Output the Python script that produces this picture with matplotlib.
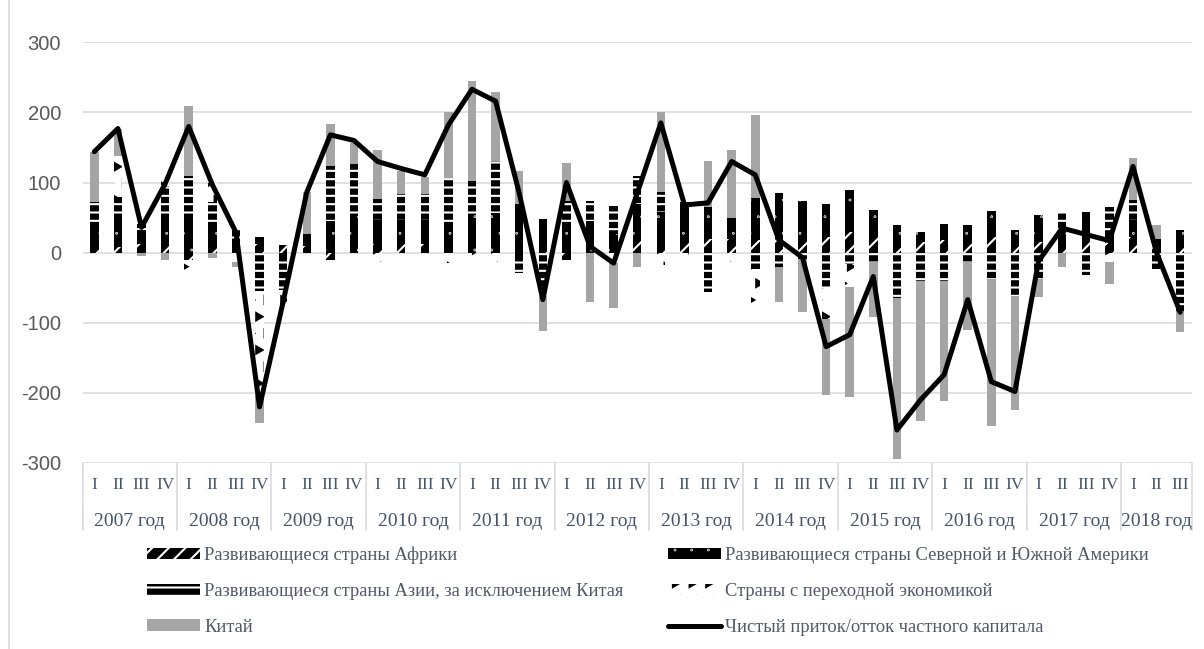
import matplotlib
matplotlib.use('Agg')
import matplotlib.pyplot as plt
import numpy as np
from matplotlib import hatch as mhatch
from matplotlib.path import Path
from matplotlib.lines import Line2D
import matplotlib.transforms as mtrans

plt.rcParams['hatch.linewidth'] = 1.5

# ---------------- data ----------------
years = ['2007 год', '2008 год', '2009 год', '2010 год', '2011 год', '2012 год',
         '2013 год', '2014 год', '2015 год', '2016 год', '2017 год', '2018 год']
quarters = ['I', 'II', 'III', 'IV'] * 11 + ['I', 'II', 'III']

africa = [8, 8, 12, 10, -10, 10, 0, 12, 11, 10, -10, 0,
          12, 12, 12, 0, 0, 0, -8, 8, -10, 0, 0, 20,
          8, 15, 20, 20, 18, 20, 22, 22, 30, 28, 15, 15,
          18, 17, 22, 13, 15, 10, 15, 18, 22, 12, 15]
americas = [35, 40, 20, 45, 50, 32, 12, 11, -5, 16, 45, 52,
            35, 35, 35, 40, 55, 57, 69, 40, 40, 45, 26, 50,
            50, 57, 45, 29, 60, 65, 51, 48, 60, 33, 24, 15,
            23, 22, 38, 20, 38, 18, 43, 10, 25, 8, 18]
asia = [29, 32, 9, 40, 59, 30, 22, -55, -48, 0, 78, 74,
        29, 36, 36, 67, 47, 73, -21, -45, 33, 28, 40, 39,
        28, 0, -56, 0, -23, -20, -9, -51, -16, -13, -64, -40,
        -40, -13, -37, -62, -37, 28, -32, 37, 28, -24, -85]
transition = [0, 58, 0, 13, -19, 28, -13, -148, -28, 0, 0, 0,
              -14, 0, 0, -15, -16, -13, 0, -17, 0, 0, -15, 0,
              -17, -4, 0, -13, -52, 0, 0, -43, -33, 0, 0, 0,
              0, 0, 0, 0, 0, 0, 0, -13, -9, -11, 0]
china = [72, 39, -5, -10, 100, -7, -8, -40, 0, 60, 60, 31,
         70, 33, 25, 93, 143, 99, 48, -50, 55, -70, -64, -20,
         114, 0, 65, 97, 119, -51, -75, -109, -157, -79, -230, -200,
         -171, -98, -210, -163, -26, -20, 0, -31, 60, 19, -28]
net_flow = [144, 177, 36, 98, 180, 97, 29, -220, -70, 86, 168, 160,
            130, 120, 111, 182, 233, 216, 85, -67, 100, 9, -15, 85,
            185, 68, 71, 130, 111, 18, -7, -134, -117, -34, -253, -210,
            -174, -67, -184, -198, -12, 35, 26, 17, 123, 0, -85]

series_names = ['Развивающиеся страны Африки',
                'Развивающиеся страны Северной и Южной Америки',
                'Развивающиеся страны Азии, за исключением Китая',
                'Страны с переходной экономикой',
                'Китай']
line_name = 'Чистый приток/отток частного капитала'
yticks = [-300, -200, -100, 0, 100, 200, 300]


# ---------------- custom hatches ----------------
class Triangles(mhatch.Shapes):
    """Filled right-pointing triangles, selected with '*'."""
    size = 0.25
    filled = True

    def __init__(self, hatch, density):
        self.num_rows = hatch.count('*') * density
        p = Path.unit_regular_polygon(3)
        v = p.vertices.copy()
        self.shape_vertices = np.column_stack([v[:, 1], -v[:, 0]])
        self.shape_codes = p.codes
        super().__init__(hatch, density)


class TinyDots(mhatch.Circles):
    """Very small filled dots, selected with '.'."""
    size = 0.02
    filled = True

    def __init__(self, hatch, density):
        self.num_rows = hatch.count('.') * density
        super().__init__(hatch, density)


_repl = {mhatch.Stars: Triangles, mhatch.SmallFilledCircles: TinyDots}
mhatch._hatch_types = [_repl.get(c, c) for c in mhatch._hatch_types]

TEXT = '#595959'
CAT = '#44546A'
GRID = '#D9DCE1'
SERIF = 'Liberation Serif'

fig = plt.figure(figsize=(12.04, 6.49), dpi=100)
ax = fig.add_axes([82.5 / 1204, 1 - 463 / 649, (1192 - 82.5) / 1204, (463 - 42.3) / 649])

# thin chart-area border on the left
fig.add_artist(Line2D([8.5 / 1204, 8.5 / 1204], [0, 1], transform=fig.transFigure,
                      color=GRID, lw=1.2))

n = len(quarters)
x = np.arange(n)
width = 0.36

styles = [
    dict(facecolor='black', edgecolor='white', hatch='//'),
    dict(facecolor='black', edgecolor='white', hatch='.'),
    dict(facecolor='black', edgecolor='white', hatch='--'),
    dict(facecolor='white', edgecolor='black', hatch='*'),
    dict(facecolor='#A5A5A5', edgecolor='#A5A5A5', hatch=None),
]

data = [africa, americas, asia, transition, china]
pos_base = np.zeros(n)
neg_base = np.zeros(n)
handles = []
for vals, st, name in zip(data, styles, series_names):
    v = np.array(vals, dtype=float)
    bottom = np.where(v >= 0, pos_base, neg_base)
    bars = ax.bar(x, v, width, bottom=bottom, facecolor=st['facecolor'],
                  edgecolor=st['edgecolor'], hatch=st['hatch'], linewidth=0,
                  zorder=2, label=name)
    pos_base = pos_base + np.where(v >= 0, v, 0)
    neg_base = neg_base + np.where(v < 0, v, 0)
    handles.append(bars)

line, = ax.plot(x, net_flow, color='black', lw=3.6, zorder=4,
                solid_joinstyle='round', solid_capstyle='round')

ax.set_xlim(-0.5, n - 0.5)
ax.set_ylim(-300, 300)
ax.set_yticks(yticks)
ax.set_yticklabels([str(t) for t in yticks], fontsize=14.5,
                   family='Liberation Sans', color=TEXT)
ax.tick_params(axis='y', length=0, pad=15.5)
ax.set_xticks([])
for s in ax.spines.values():
    s.set_visible(False)
for t in yticks:
    ax.axhline(t, color=GRID, lw=1.2, zorder=1)

# category axis (multi-level)
tr = mtrans.blended_transform_factory(ax.transData, ax.transAxes)
axh = (463 - 42.3)
for i, q in enumerate(quarters):
    ax.text(i, -22 / axh, q, transform=tr, ha='center', va='center',
            fontsize=12.5, family=SERIF, color=CAT)
starts = [i for i, q in enumerate(quarters) if q == 'I']
ends = starts[1:] + [n]
for yr, s, e in zip(years, starts, ends):
    ax.text((s + e - 1) / 2, -59 / axh, yr, transform=tr, ha='center', va='center',
            fontsize=14, family=SERIF, color=CAT)
bounds = [s - 0.5 for s in starts] + [n - 0.5]
for b in bounds:
    ax.plot([b, b], [0, -67 / axh], transform=tr, color=GRID, lw=1.2,
            clip_on=False, zorder=1)

# legend
order = [0, 2, 4, 1, 3]
leg_handles = [handles[i] for i in order] + [line]
leg_labels = [series_names[i] for i in order] + [line_name]
leg = fig.legend(leg_handles, leg_labels, loc='upper left',
                 bbox_to_anchor=(140 / 1204, 1 - 539 / 649), ncol=2,
                 frameon=False, prop={'family': SERIF, 'size': 13.3},
                 handlelength=2.87, handleheight=0.55, handletextpad=0.2,
                 columnspacing=2.4, labelspacing=1.02, borderaxespad=0)
for t in leg.get_texts():
    t.set_color('#505A66')

fig.savefig('out.png', dpi=100, facecolor='white')
